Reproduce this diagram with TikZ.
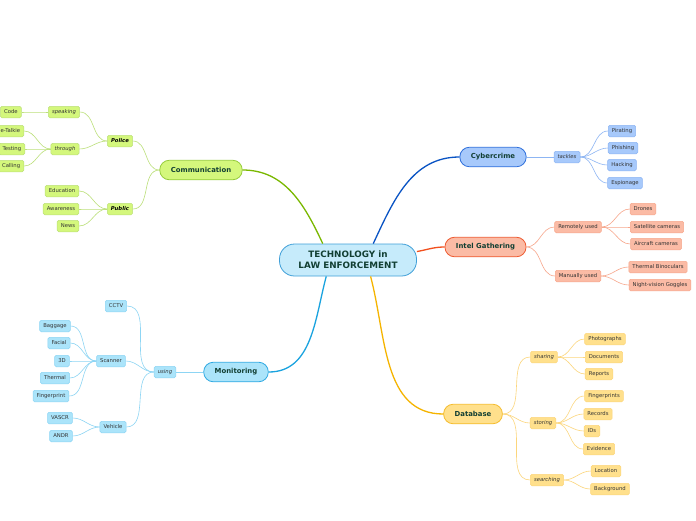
\documentclass[tikz,border=0pt]{standalone}
\usepackage{fontspec}
\setmainfont{DejaVu Sans}

\definecolor{maintext}{HTML}{123F33}
\definecolor{leaftext}{HTML}{333333}
\definecolor{rootfill}{HTML}{C6EBFB}
\definecolor{rootdraw}{HTML}{3F9FD8}
\definecolor{commfill}{HTML}{D4F77C}
\definecolor{commdraw}{HTML}{95CB3A}
\definecolor{commline}{HTML}{7AB800}
\definecolor{commsub}{HTML}{BCE07A}
\definecolor{monfill}{HTML}{ABE4FA}
\definecolor{mondraw}{HTML}{2FA9E2}
\definecolor{monline}{HTML}{1AA3DF}
\definecolor{monsub}{HTML}{8DD5F4}
\definecolor{cybfill}{HTML}{A7C9FB}
\definecolor{cybdraw}{HTML}{2E6FDB}
\definecolor{cybline}{HTML}{0A54C4}
\definecolor{cybsub}{HTML}{8DB5F3}
\definecolor{intfill}{HTML}{FBBBA5}
\definecolor{intdraw}{HTML}{EE5A30}
\definecolor{intline}{HTML}{F2501E}
\definecolor{intsub}{HTML}{F7A78C}
\definecolor{dbfill}{HTML}{FFE08C}
\definecolor{dbdraw}{HTML}{F5BC2C}
\definecolor{dbline}{HTML}{F5B400}
\definecolor{dbsub}{HTML}{FCD67C}

\begin{document}
\begin{tikzpicture}[x=1pt,y=-1pt,
    root/.style={draw=rootdraw,fill=rootfill,rounded corners=15pt,line width=0.8pt,
      minimum width=137pt,minimum height=32pt,align=center,text=maintext,
      font=\fontsize{8.8}{11}\selectfont\bfseries},
    topic/.style={rounded corners=9.5pt,line width=0.8pt,minimum height=19.5pt,
      inner xsep=11pt,text=maintext,font=\fontsize{6.9}{8}\selectfont\bfseries},
    leaf/.style={rounded corners=1.5pt,line width=0.5pt,minimum height=11.5pt,
      inner xsep=3.6pt,inner ysep=0pt,text=leaftext,font=\fontsize{5.3}{6}\selectfont},
    verb/.style={leaf,font=\fontsize{5.3}{6}\selectfont\itshape},
    who/.style={leaf,font=\fontsize{5.3}{6}\selectfont\bfseries\itshape,text=black},
    comm/.style={fill=commfill,draw=commdraw},
    mon/.style={fill=monfill,draw=mondraw},
    cyb/.style={fill=cybfill,draw=cybdraw},
    int/.style={fill=intfill,draw=intdraw},
    db/.style={fill=dbfill,draw=dbdraw},
    comml/.style={fill=commfill,draw=commsub},
    monl/.style={fill=monfill,draw=monsub},
    cybl/.style={fill=cybfill,draw=cybsub},
    intl/.style={fill=intfill,draw=intsub},
    dbl/.style={fill=dbfill,draw=dbsub},
    branch/.style={line width=1.3pt},
    twig/.style={line width=0.6pt}]
  \useasboundingbox (0,0) rectangle (696,520);
  \fill[white] (0,0) rectangle (696,520);

  \node[root] (root) at (348,260) {TECHNOLOGY in\\LAW ENFORCEMENT};

  % Communication
  \node[topic,comm] (comm) at (201,170) {Communication};
  \node[who,comml] (police) at (120,141) {Police};
  \node[who,comml] (public) at (120,209) {Public};
  \node[verb,comml] (speaking) at (64,112) {speaking};
  \node[verb,comml] (through) at (65,149) {through};
  \node[leaf,comml,anchor=east] (code) at (21.5,112) {Code};
  \node[leaf,comml,anchor=east] (walkie) at (24,131) {e-Talkie};
  \node[leaf,comml,anchor=east] (texting) at (25,149) {Testing};
  \node[leaf,comml,anchor=east] (calling) at (24,166) {Calling};
  \node[leaf,comml] (educ) at (62,191) {Education};
  \node[leaf,comml] (aware) at (61,209) {Awareness};
  \node[leaf,comml] (news) at (68,226) {News};

  \draw[branch,commline] (root.147) to[out=115,in=0] (comm.east);
  \draw[twig,commsub] (comm.west) to[out=180,in=0] (police.east);
  \draw[twig,commsub] (comm.west) to[out=180,in=0] (public.east);
  \draw[twig,commsub] (police.west) to[out=180,in=0] (speaking.east);
  \draw[twig,commsub] (police.west) to[out=180,in=0] (through.east);
  \draw[twig,commsub] (speaking.west) to[out=180,in=0] (code.east);
  \foreach \n in {walkie,texting,calling}
    \draw[twig,commsub] (through.west) to[out=180,in=0] (\n.east);
  \foreach \n in {educ,aware,news}
    \draw[twig,commsub] (public.west) to[out=180,in=0] (\n.east);

  % Monitoring
  \node[topic,mon] (mon) at (236,372) {Monitoring};
  \node[verb,monl] (using) at (165,372) {using};
  \node[leaf,monl] (cctv) at (116,306) {CCTV};
  \node[leaf,monl] (scanner) at (111,361) {Scanner};
  \node[leaf,monl] (vehicle) at (113,427) {Vehicle};
  \node[leaf,monl] (bag) at (55,326) {Baggage};
  \node[leaf,monl] (facial) at (59,343) {Facial};
  \node[leaf,monl] (threeD) at (62,361) {3D};
  \node[leaf,monl] (thermal) at (55,378) {Thermal};
  \node[leaf,monl] (fprint) at (51,396) {Fingerprint};
  \node[leaf,monl] (vascr) at (60,418) {VASCR};
  \node[leaf,monl] (andr) at (61,436) {ANDR};

  \draw[branch,monline] (root.217) to[out=-105,in=0] (mon.east);
  \draw[twig,monsub] (mon.west) -- (using.east);
  \foreach \n in {cctv,scanner,vehicle}
    \draw[twig,monsub] (using.west) to[out=180,in=0] (\n.east);
  \foreach \n in {bag,facial,threeD,thermal,fprint}
    \draw[twig,monsub] (scanner.west) to[out=180,in=0] (\n.east);
  \foreach \n in {vascr,andr}
    \draw[twig,monsub] (vehicle.west) to[out=180,in=0] (\n.east);

  % Cybercrime
  \node[topic,cyb] (cyber) at (493,157) {Cybercrime};
  \node[verb,cybl] (tackles) at (567,157) {tackles};
  \node[leaf,cybl] (pirating) at (622,131) {Pirating};
  \node[leaf,cybl] (phishing) at (623,148) {Phishing};
  \node[leaf,cybl] (hacking) at (622,165) {Hacking};
  \node[leaf,cybl] (espionage) at (625,183) {Espionage};

  \draw[branch,cybline] (root.33) to[out=65,in=180] (cyber.west);
  \draw[twig,cybsub] (cyber.east) -- (tackles.west);
  \foreach \n in {pirating,phishing,hacking,espionage}
    \draw[twig,cybsub] (tackles.east) to[out=0,in=180] (\n.west);

  % Intel Gathering
  \node[topic,int] (intel) at (485.5,247) {Intel Gathering};
  \node[leaf,intl] (remote) at (578,227) {Remotely used};
  \node[leaf,intl] (manual) at (578,276) {Manually used};
  \node[leaf,intl] (drones) at (643,209) {Drones};
  \node[leaf,intl] (satcam) at (657,227) {Satellite cameras};
  \node[leaf,intl] (aircam) at (656,244) {Aircraft cameras};
  \node[leaf,intl] (binoc) at (658,267) {Thermal Binoculars};
  \node[leaf,intl] (goggles) at (660,285) {Night-vision Goggles};

  \draw[branch,intline] (root.7) to[out=10,in=180] (intel.west);
  \draw[twig,intsub] (intel.east) to[out=0,in=180] (remote.west);
  \draw[twig,intsub] (intel.east) to[out=0,in=180] (manual.west);
  \foreach \n in {drones,satcam,aircam}
    \draw[twig,intsub] (remote.east) to[out=0,in=180] (\n.west);
  \foreach \n in {binoc,goggles}
    \draw[twig,intsub] (manual.east) to[out=0,in=180] (\n.west);

  % Database
  \node[topic,db] (db) at (473,414) {Database};
  \node[verb,dbl] (sharing) at (544,357) {sharing};
  \node[verb,dbl] (storing) at (543,423) {storing};
  \node[verb,dbl] (searching) at (547,480) {searching};
  \node[leaf,dbl] (photos) at (605,339) {Photographs};
  \node[leaf,dbl] (docs) at (604,357) {Documents};
  \node[leaf,dbl] (reports) at (599,374) {Reports};
  \node[leaf,dbl] (fprints) at (604,396) {Fingerprints};
  \node[leaf,dbl] (records) at (598,414) {Records};
  \node[leaf,dbl] (ids) at (592,431) {IDs};
  \node[leaf,dbl] (evidence) at (599,449) {Evidence};
  \node[leaf,dbl] (location) at (606,471) {Location};
  \node[leaf,dbl] (backgr) at (610,489) {Background};

  \draw[branch,dbline] (root.-36) to[out=-75,in=180] (db.west);
  \foreach \n in {sharing,storing,searching}
    \draw[twig,dbsub] (db.east) to[out=0,in=180] (\n.west);
  \foreach \n in {photos,docs,reports}
    \draw[twig,dbsub] (sharing.east) to[out=0,in=180] (\n.west);
  \foreach \n in {fprints,records,ids,evidence}
    \draw[twig,dbsub] (storing.east) to[out=0,in=180] (\n.west);
  \foreach \n in {location,backgr}
    \draw[twig,dbsub] (searching.east) to[out=0,in=180] (\n.west);
\end{tikzpicture}
\end{document}
